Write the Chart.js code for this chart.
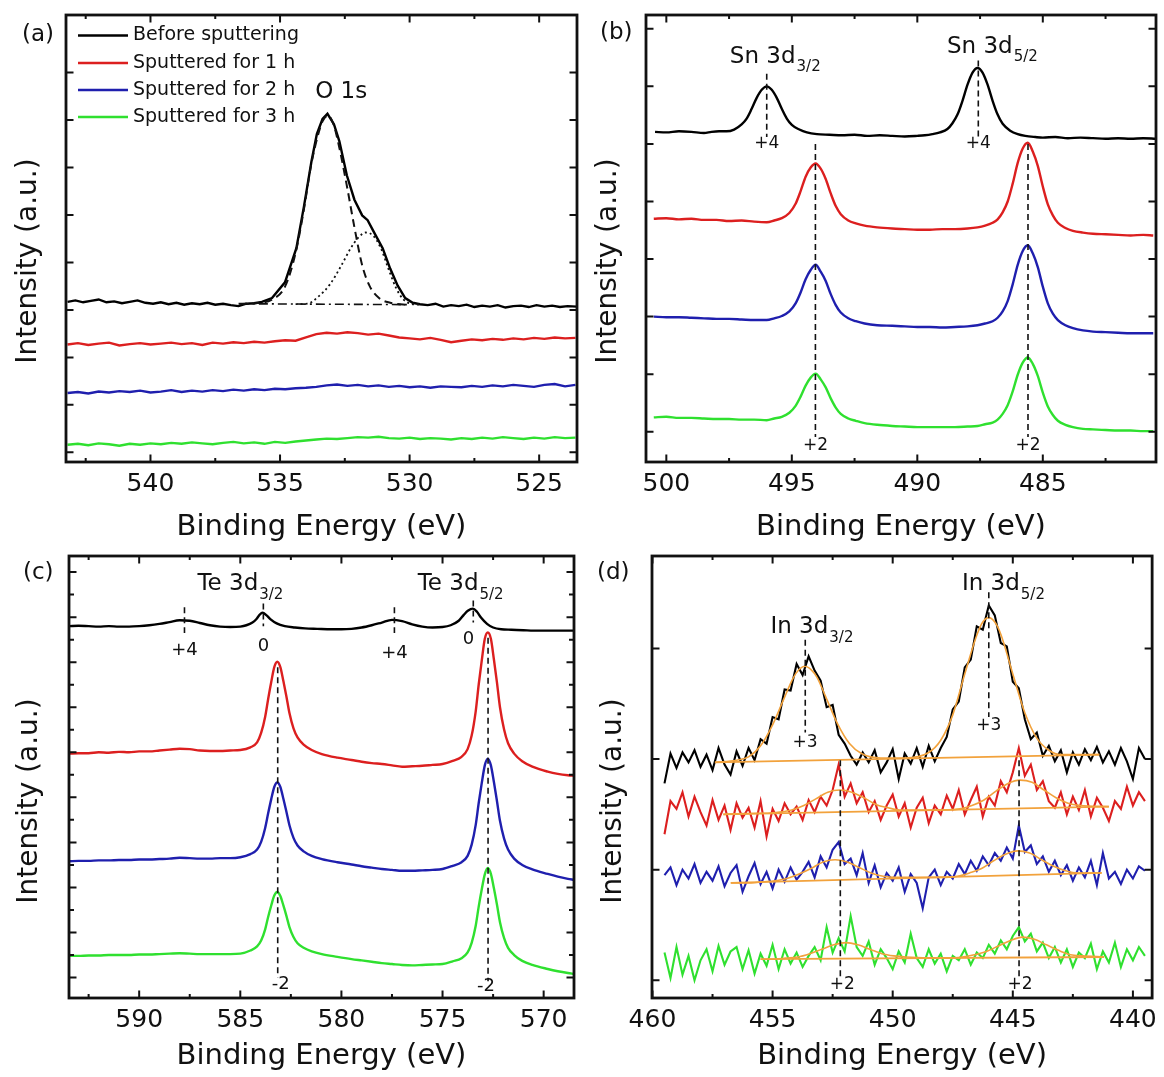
<!DOCTYPE html>
<html><head><meta charset="utf-8">
<script src="https://cdn.jsdelivr.net/npm/chart.js@4.4.1/dist/chart.umd.min.js"></script>
<style>
html,body{margin:0;padding:0;background:#fff;}
#wrap{position:relative;width:1164px;height:1077px;overflow:hidden;background:#fff;}
#wrap canvas{position:absolute;left:0;top:0;}
</style></head><body><div id="wrap">
<canvas id="pa" width="1164" height="1077"></canvas>
<canvas id="pb" width="1164" height="1077"></canvas>
<canvas id="pc" width="1164" height="1077"></canvas>
<canvas id="pd" width="1164" height="1077"></canvas>
</div>
<script>
// ---------------- series names ----------------
const seriesNames = ['Before sputtering', 'Sputtered for 1 h', 'Sputtered for 2 h', 'Sputtered for 3 h'];

// ---------------- panel (a): O 1s ----------------
const aXTicks = [540, 535, 530, 525];
const aXMinor = [542.5, 537.5, 532.5, 527.5];
const aYTicks = [0, 1, 2, 3, 4, 5, 6, 7, 8];
const aYMinor = [];
const aBlackE = [543.2, 542.9, 542.6, 542.3, 542.0, 541.7, 541.4, 541.1, 540.8, 540.5, 540.2, 539.9, 539.6, 539.3, 539.0, 538.7, 538.4, 538.1, 537.8, 537.5, 537.2, 536.9, 536.6, 536.3, 536.0, 535.7,
  535.31, 534.81, 534.37, 534.08, 533.79, 533.58, 533.36, 533.17, 532.92, 532.71, 532.42, 532.13, 531.83, 531.62, 531.33, 531.04, 530.75, 530.46, 530.17, 529.88,
  529.6, 529.3, 529.0, 528.7, 528.4, 528.1, 527.8, 527.5, 527.2, 526.9, 526.6, 526.3, 526.0, 525.7, 525.4, 525.1, 524.8, 524.5, 524.2, 523.9, 523.55];
const aBlack = [3.17, 3.20, 3.16, 3.19, 3.22, 3.16, 3.18, 3.14, 3.17, 3.20, 3.15, 3.13, 3.16, 3.12, 3.15, 3.11, 3.14, 3.12, 3.15, 3.11, 3.13, 3.10, 3.08, 3.13, 3.14, 3.17,
  3.25, 3.58, 4.30, 5.17, 6.12, 6.70, 7.02, 7.13, 6.91, 6.55, 5.83, 5.32, 4.99, 4.89, 4.59, 4.30, 3.87, 3.51, 3.25, 3.15,
  3.12, 3.10, 3.13, 3.07, 3.10, 3.08, 3.11, 3.06, 3.09, 3.07, 3.10, 3.05, 3.08, 3.09, 3.06, 3.10, 3.07, 3.09, 3.06, 3.08, 3.07];
const aFit1E = [536.6, 536.0, 535.3, 534.8, 534.4, 534.1, 533.8, 533.55, 533.35, 533.15, 532.92, 532.71, 532.42, 532.13, 531.83, 531.55, 531.18, 530.75, 530.17];
const aFit1 = [3.13, 3.14, 3.22, 3.50, 4.20, 5.05, 6.05, 6.65, 6.98, 7.09, 6.88, 6.41, 5.61, 4.74, 3.94, 3.51, 3.25, 3.15, 3.11];
const aFit2E = [534.4, 533.94, 533.50, 533.07, 532.63, 532.27, 531.98, 531.69, 531.40, 531.11, 530.82, 530.53, 530.24, 529.95, 529.6];
const aFit2 = [3.12, 3.13, 3.29, 3.54, 3.94, 4.30, 4.52, 4.63, 4.56, 4.30, 3.87, 3.47, 3.22, 3.13, 3.11];
const aBaseE = [536.55, 529.95];
const aBase = [3.13, 3.11];
const aE = [543.2, 542.8, 542.4, 542.0, 541.6, 541.2, 540.8, 540.4, 540.0, 539.6, 539.2, 538.8, 538.4, 538.0, 537.6, 537.2, 536.8, 536.4, 536.0, 535.6, 535.2, 534.8, 534.4, 534.0, 533.6, 533.2, 532.8, 532.4, 532.0, 531.6, 531.2, 530.8, 530.4, 530.0, 529.6, 529.2, 528.8, 528.4, 528.0, 527.6, 527.2, 526.8, 526.4, 526.0, 525.6, 525.2, 524.8, 524.4, 524.0, 523.6];
const aRed = [2.27, 2.30, 2.26, 2.29, 2.31, 2.25, 2.28, 2.30, 2.27, 2.29, 2.31, 2.28, 2.30, 2.26, 2.31, 2.29, 2.32, 2.30, 2.33, 2.31, 2.34, 2.36, 2.35, 2.42, 2.49, 2.52, 2.50, 2.53, 2.51, 2.48, 2.50, 2.46, 2.42, 2.40, 2.38, 2.41, 2.37, 2.32, 2.35, 2.38, 2.36, 2.39, 2.37, 2.40, 2.38, 2.41, 2.39, 2.42, 2.40, 2.41];
const aBlue = [1.25, 1.27, 1.24, 1.28, 1.26, 1.29, 1.27, 1.30, 1.26, 1.28, 1.31, 1.27, 1.30, 1.28, 1.31, 1.29, 1.32, 1.30, 1.33, 1.31, 1.34, 1.33, 1.35, 1.36, 1.38, 1.41, 1.43, 1.40, 1.42, 1.39, 1.41, 1.38, 1.40, 1.37, 1.39, 1.36, 1.39, 1.38, 1.37, 1.40, 1.38, 1.41, 1.39, 1.42, 1.40, 1.38, 1.42, 1.44, 1.39, 1.42];
const aGreen = [0.16, 0.18, 0.15, 0.19, 0.17, 0.14, 0.18, 0.16, 0.19, 0.17, 0.20, 0.18, 0.21, 0.19, 0.17, 0.20, 0.22, 0.19, 0.21, 0.18, 0.22, 0.20, 0.23, 0.25, 0.27, 0.29, 0.28, 0.30, 0.32, 0.31, 0.33, 0.30, 0.29, 0.31, 0.28, 0.30, 0.29, 0.27, 0.30, 0.28, 0.31, 0.29, 0.32, 0.30, 0.28, 0.31, 0.29, 0.32, 0.30, 0.31];
const aNoteText = ['O 1s'];
const aNoteE = [532.64];
const aNoteU = [7.59];

// ---------------- panel (b): Sn 3d ----------------
const bXTicks = [500, 495, 490, 485];
const bXMinor = [497.5, 492.5, 487.5, 482.5];
const bYTicks = [0, 1, 2, 3, 4, 5, 6, 7];
const bYMinor = [];
const bBlackE = [500.45, 500.0, 499.5, 499.0, 498.5, 498.2, 497.9, 497.6, 497.3, 497.0, 496.8, 496.6, 496.4, 496.2, 496.0, 495.8, 495.6, 495.4, 495.2, 495.0, 494.7, 494.4, 494.0, 493.5, 493.0, 492.5, 492.0, 491.5, 491.0, 490.5, 490.0, 489.7, 489.4, 489.1, 488.8, 488.6, 488.4, 488.2, 488.0, 487.8, 487.6, 487.4, 487.2, 487.0, 486.8, 486.6, 486.3, 486.0, 485.7, 485.3, 485.0, 484.5, 484.0, 483.5, 483.0, 482.5, 482.0, 481.5, 481.0, 480.5];
const bBlack = [5.21, 5.20, 5.22, 5.21, 5.19, 5.21, 5.22, 5.22, 5.25, 5.34, 5.44, 5.61, 5.80, 5.94, 6.00, 5.94, 5.80, 5.61, 5.44, 5.33, 5.25, 5.20, 5.17, 5.16, 5.15, 5.16, 5.14, 5.15, 5.14, 5.13, 5.14, 5.15, 5.17, 5.20, 5.26, 5.36, 5.51, 5.75, 6.03, 6.24, 6.32, 6.24, 6.03, 5.75, 5.51, 5.35, 5.23, 5.17, 5.14, 5.12, 5.11, 5.12, 5.10, 5.11, 5.10, 5.09, 5.10, 5.09, 5.10, 5.09];
const bColorE = [500.5, 500.0, 499.5, 499.0, 498.5, 498.0, 497.5, 497.0, 496.5, 496.0, 495.7, 495.4, 495.1, 494.85, 494.65, 494.45, 494.25, 494.05, 493.85, 493.65, 493.45, 493.25, 493.05, 492.75, 492.45, 492.1, 491.6, 491.0, 490.5, 490.0, 489.5, 489.0, 488.5, 488.0, 487.6, 487.3, 487.0, 486.8, 486.6, 486.4, 486.2, 486.0, 485.8, 485.6, 485.4, 485.2, 485.0, 484.8, 484.6, 484.4, 484.1, 483.8, 483.4, 483.0, 482.5, 482.0, 481.5, 481.0, 480.6];
const bRed = [3.70, 3.71, 3.69, 3.70, 3.68, 3.68, 3.66, 3.67, 3.65, 3.64, 3.67, 3.71, 3.80, 3.96, 4.18, 4.43, 4.59, 4.66, 4.57, 4.39, 4.14, 3.92, 3.78, 3.67, 3.62, 3.58, 3.55, 3.53, 3.52, 3.51, 3.51, 3.52, 3.52, 3.53, 3.55, 3.58, 3.63, 3.69, 3.81, 4.00, 4.31, 4.67, 4.92, 5.02, 4.87, 4.62, 4.26, 3.95, 3.76, 3.63, 3.54, 3.49, 3.46, 3.44, 3.43, 3.42, 3.41, 3.42, 3.41];
const bBlue = [2.00, 1.99, 1.99, 1.98, 1.97, 1.96, 1.96, 1.95, 1.94, 1.94, 1.97, 2.01, 2.09, 2.23, 2.42, 2.65, 2.81, 2.90, 2.78, 2.62, 2.39, 2.20, 2.07, 1.97, 1.92, 1.88, 1.85, 1.84, 1.83, 1.82, 1.82, 1.81, 1.82, 1.83, 1.85, 1.88, 1.92, 1.98, 2.09, 2.27, 2.56, 2.90, 3.14, 3.24, 3.10, 2.86, 2.52, 2.23, 2.05, 1.94, 1.85, 1.80, 1.76, 1.74, 1.73, 1.72, 1.71, 1.71, 1.71];
const bGreen = [0.25, 0.26, 0.24, 0.24, 0.23, 0.22, 0.22, 0.21, 0.21, 0.20, 0.23, 0.26, 0.33, 0.45, 0.61, 0.80, 0.94, 1.01, 0.91, 0.77, 0.58, 0.42, 0.31, 0.23, 0.19, 0.15, 0.12, 0.10, 0.09, 0.08, 0.08, 0.08, 0.08, 0.09, 0.10, 0.13, 0.16, 0.21, 0.31, 0.46, 0.70, 0.99, 1.20, 1.29, 1.18, 0.97, 0.68, 0.44, 0.29, 0.19, 0.12, 0.08, 0.05, 0.04, 0.03, 0.02, 0.02, 0.01, 0.01];
const bMarkE = [496.0, 487.57, 494.06, 485.59];
const bMarkTop = [6.22, 6.45, 5.0, 5.0];
const bMarkBot = [5.12, 5.12, -0.09, -0.09];
const bNoteText = ['+4', '+4', '+2', '+2'];
const bNoteE = [496.0, 487.57, 494.06, 485.59];
const bNoteU = [5.0, 5.0, -0.24, -0.24];
const bSpecies = ['Sn 3d', 'Sn 3d'];
const bSpeciesSub = ['3/2', '5/2'];
const bSpeciesE = [497.47, 488.82];
const bSpeciesU = [6.41, 6.58];
const bSpeciesSubU = [6.26, 6.44];

// ---------------- panel (c): Te 3d ----------------
const cXTicks = [590, 585, 580, 575, 570];
const cXMinor = [592.5, 587.5, 582.5, 577.5, 572.5];
const cYTicks = [0, 1, 2, 3, 4, 5, 6, 7, 8, 9];
const cYMinor = [0.5, 1.5, 2.5, 3.5, 4.5, 5.5, 6.5, 7.5, 8.5];
const cBlackE = [593.45, 593, 592.5, 592, 591.5, 591, 590.5, 590, 589.5, 589, 588.5, 588.0, 587.5, 587, 586.5, 586, 585.5, 585, 584.7, 584.4, 584.2, 584.05, 583.9, 583.7, 583.5, 583.2, 582.8, 582.3, 581.8, 581.2, 580.5, 580, 579.5, 579, 578.5, 578, 577.5, 577, 576.5, 576, 575.5, 575, 574.6, 574.2, 573.95, 573.75, 573.5, 573.3, 573.1, 572.8, 572.5, 572.1, 571.6, 571, 570.5, 570, 569.5, 569, 568.5];
const cBlack = [7.80, 7.81, 7.80, 7.79, 7.80, 7.79, 7.79, 7.80, 7.82, 7.85, 7.89, 7.93, 7.92, 7.87, 7.82, 7.79, 7.78, 7.79, 7.82, 7.88, 7.96, 8.05, 8.10, 8.04, 7.95, 7.86, 7.80, 7.77, 7.75, 7.74, 7.73, 7.73, 7.74, 7.77, 7.82, 7.88, 7.94, 7.91, 7.84, 7.79, 7.77, 7.78, 7.82, 7.92, 8.05, 8.14, 8.19, 8.12, 7.99, 7.85, 7.77, 7.73, 7.72, 7.71, 7.70, 7.70, 7.70, 7.70, 7.70];
const cColorE = [593.45, 593, 592.5, 592, 591.5, 591, 590.5, 590, 589.5, 589, 588.5, 588, 587.5, 587, 586.5, 586, 585.5, 585.0, 584.5, 584.17, 583.97, 583.77, 583.62, 583.47, 583.32, 583.17, 583.02, 582.87, 582.72, 582.57, 582.37, 582.17, 581.87, 581.47, 580.97, 580.2, 579.5, 579, 578.5, 578, 577.5, 577, 576.5, 576, 575.5, 575.0, 574.5, 574.06, 573.76, 573.56, 573.36, 573.21, 573.06, 572.91, 572.76, 572.61, 572.46, 572.31, 572.16, 571.96, 571.76, 571.46, 571.06, 570.56, 569.8, 569.3, 568.8, 568.5];
const cRed = [4.97, 4.98, 4.98, 5.00, 4.99, 5.01, 5.00, 5.02, 5.02, 5.04, 5.06, 5.08, 5.07, 5.04, 5.03, 5.03, 5.04, 5.05, 5.11, 5.22, 5.43, 5.79, 6.19, 6.56, 6.89, 7.01, 6.89, 6.58, 6.24, 5.87, 5.53, 5.33, 5.17, 5.05, 4.96, 4.88, 4.83, 4.79, 4.76, 4.74, 4.71, 4.68, 4.69, 4.70, 4.72, 4.74, 4.81, 4.90, 5.07, 5.37, 5.91, 6.51, 7.04, 7.52, 7.66, 7.52, 7.06, 6.55, 6.00, 5.51, 5.20, 4.97, 4.80, 4.68, 4.57, 4.52, 4.49, 4.48];
const cBlue = [2.58, 2.59, 2.59, 2.60, 2.60, 2.61, 2.61, 2.62, 2.62, 2.63, 2.64, 2.66, 2.65, 2.64, 2.64, 2.65, 2.65, 2.67, 2.74, 2.84, 3.01, 3.32, 3.65, 3.96, 4.23, 4.33, 4.23, 3.97, 3.68, 3.38, 3.10, 2.93, 2.80, 2.70, 2.63, 2.56, 2.51, 2.47, 2.44, 2.41, 2.39, 2.37, 2.37, 2.38, 2.39, 2.41, 2.48, 2.56, 2.70, 2.95, 3.39, 3.88, 4.32, 4.71, 4.86, 4.71, 4.34, 3.92, 3.48, 3.09, 2.84, 2.64, 2.50, 2.40, 2.30, 2.24, 2.19, 2.17];
const cGreen = [0.48, 0.48, 0.49, 0.49, 0.50, 0.50, 0.50, 0.51, 0.51, 0.52, 0.53, 0.54, 0.53, 0.52, 0.52, 0.52, 0.52, 0.53, 0.60, 0.69, 0.82, 1.07, 1.35, 1.60, 1.82, 1.90, 1.81, 1.60, 1.37, 1.12, 0.90, 0.76, 0.66, 0.58, 0.52, 0.46, 0.41, 0.38, 0.35, 0.32, 0.30, 0.28, 0.27, 0.28, 0.29, 0.30, 0.36, 0.43, 0.56, 0.77, 1.15, 1.58, 1.96, 2.29, 2.43, 2.30, 1.98, 1.62, 1.23, 0.88, 0.66, 0.50, 0.37, 0.28, 0.19, 0.14, 0.10, 0.08];
const cMarkE = [587.76, 583.86, 577.38, 573.48, 583.15, 572.75];
const cMarkTop = [8.22, 8.30, 8.22, 8.37, 6.89, 7.54];
const cMarkBot = [7.65, 7.80, 7.65, 7.88, 0.0, -0.08];
const cNoteText = ['+4', '0', '+4', '0', '-2', '-2'];
const cNoteE = [587.76, 583.86, 577.38, 573.72, 583.0, 572.85];
const cNoteU = [7.27, 7.35, 7.2, 7.5, -0.15, -0.19];
const cSpecies = ['Te 3d', 'Te 3d'];
const cSpeciesSub = ['3/2', '5/2'];
const cSpeciesE = [587.12, 576.23];
const cSpeciesU = [8.60, 8.60];
const cSpeciesSubU = [8.41, 8.41];

// ---------------- panel (d): In 3d ----------------
const dXTicks = [460, 455, 450, 445, 440];
const dXMinor = [457.5, 452.5, 447.5, 442.5];
const dYTicks = [0, 1, 2, 3];
const dYMinor = [];
const dE = [459.5, 459.25, 459, 458.75, 458.5, 458.25, 458, 457.75, 457.5, 457.25, 457, 456.75, 456.5, 456.25, 456, 455.75, 455.5, 455.25, 455, 454.75, 454.5, 454.25, 454, 453.75, 453.5, 453.25, 453, 452.75, 452.5, 452.25, 452, 451.75, 451.5, 451.25, 451, 450.75, 450.5, 450.25, 450, 449.75, 449.5, 449.25, 449, 448.75, 448.5, 448.25, 448, 447.75, 447.5, 447.25, 447, 446.75, 446.5, 446.25, 446, 445.75, 445.5, 445.25, 445, 444.75, 444.5, 444.25, 444, 443.75, 443.5, 443.25, 443, 442.75, 442.5, 442.25, 442, 441.75, 441.5, 441.25, 441, 440.75, 440.5, 440.25, 440, 439.75, 439.5];
const dBlack = [1.78, 2.05, 1.92, 2.06, 1.97, 2.08, 1.93, 2.04, 1.90, 2.10, 1.95, 1.86, 2.07, 1.94, 2.10, 1.99, 2.18, 2.14, 2.38, 2.36, 2.63, 2.62, 2.86, 2.76, 2.93, 2.80, 2.71, 2.47, 2.49, 2.22, 2.14, 2.03, 1.95, 2.06, 1.97, 2.08, 1.88, 1.97, 2.09, 1.82, 2.05, 1.96, 2.10, 1.93, 2.12, 1.98, 2.10, 2.20, 2.45, 2.52, 2.83, 2.90, 3.20, 3.17, 3.39, 3.30, 3.05, 3.02, 2.70, 2.64, 2.36, 2.18, 2.24, 2.03, 2.12, 1.98, 2.08, 1.88, 2.06, 1.95, 2.09, 1.99, 2.11, 1.97, 2.07, 1.95, 2.10, 1.98, 1.82, 2.10, 2.00];
const dRed = [1.32, 1.62, 1.55, 1.70, 1.48, 1.66, 1.52, 1.40, 1.63, 1.45, 1.58, 1.36, 1.60, 1.47, 1.56, 1.38, 1.62, 1.30, 1.55, 1.44, 1.60, 1.50, 1.57, 1.45, 1.63, 1.52, 1.66, 1.58, 1.72, 1.95, 1.66, 1.78, 1.60, 1.70, 1.52, 1.62, 1.45, 1.58, 1.68, 1.48, 1.60, 1.38, 1.56, 1.65, 1.42, 1.58, 1.50, 1.67, 1.55, 1.72, 1.50, 1.63, 1.75, 1.48, 1.66, 1.58, 1.80, 1.70, 1.88, 2.10, 1.85, 1.95, 1.72, 1.80, 1.62, 1.56, 1.70, 1.50, 1.66, 1.54, 1.72, 1.48, 1.65, 1.56, 1.44, 1.62, 1.55, 1.75, 1.58, 1.70, 1.62];
const dBlue = [0.95, 1.02, 0.86, 1.00, 0.92, 1.05, 0.88, 0.98, 0.90, 1.03, 0.85, 0.97, 1.04, 0.80, 0.94, 1.06, 0.87, 0.98, 0.83, 1.00, 0.89, 1.02, 0.91, 0.98, 1.07, 0.93, 1.12, 1.02, 1.18, 1.25, 1.05, 1.10, 0.95, 1.15, 0.88, 1.04, 0.84, 0.97, 0.90, 1.02, 0.80, 0.96, 0.88, 0.65, 0.93, 1.00, 0.86, 0.98, 0.92, 1.05, 0.96, 1.08, 0.99, 1.12, 1.04, 1.15, 1.08, 1.20, 1.10, 1.40, 1.16, 1.22, 1.05, 1.12, 0.98, 1.08, 0.95, 1.04, 0.90, 1.02, 0.93, 1.08, 0.86, 1.15, 0.92, 0.98, 0.87, 1.00, 0.92, 1.03, 0.99];
const dGreen = [0.25, 0.02, 0.30, 0.05, 0.22, 0.00, 0.18, 0.28, 0.08, 0.31, 0.14, 0.26, 0.30, 0.10, 0.27, 0.06, 0.24, 0.13, 0.32, 0.10, 0.28, 0.15, 0.25, 0.12, 0.22, 0.30, 0.18, 0.48, 0.25, 0.38, 0.26, 0.58, 0.30, 0.22, 0.35, 0.14, 0.28, 0.20, 0.10, 0.26, 0.16, 0.42, 0.20, 0.12, 0.28, 0.15, 0.24, 0.08, 0.22, 0.18, 0.28, 0.14, 0.25, 0.20, 0.32, 0.24, 0.36, 0.28, 0.40, 0.48, 0.35, 0.42, 0.26, 0.34, 0.20, 0.30, 0.16, 0.28, 0.12, 0.25, 0.20, 0.33, 0.10, 0.26, 0.16, 0.34, 0.12, 0.28, 0.18, 0.30, 0.22];
const dFitBlackE = [457.4, 456.5, 456.0, 455.5, 455.0, 454.5, 454.15, 453.9, 453.65, 453.4, 453.15, 452.8, 452.3, 451.8, 451.3, 450.5, 449.5, 448.5, 448.0, 447.5, 447.0, 446.5, 446.25, 446.0, 445.75, 445.5, 445.0, 444.5, 444.0, 443.5, 443.0, 442.2, 441.4];
const dFitBlack = [1.97, 1.99, 2.02, 2.12, 2.31, 2.56, 2.73, 2.81, 2.84, 2.81, 2.74, 2.57, 2.32, 2.14, 2.05, 2.01, 2.01, 2.06, 2.17, 2.40, 2.77, 3.12, 3.24, 3.28, 3.24, 3.13, 2.77, 2.42, 2.19, 2.08, 2.04, 2.04, 2.04];
const dFitRedE = [457.05, 455.7, 455.2, 454.7, 454.2, 453.7, 453.2, 452.7, 452.2, 451.7, 451.2, 450.7, 450.2, 449.7, 448.2, 447.7, 447.2, 446.7, 446.2, 445.7, 445.2, 444.7, 444.2, 443.7, 443.2, 442.7, 442.2, 441.0];
const dFitRed = [1.50, 1.51, 1.51, 1.52, 1.54, 1.58, 1.64, 1.70, 1.72, 1.70, 1.65, 1.59, 1.56, 1.54, 1.54, 1.54, 1.55, 1.58, 1.63, 1.71, 1.78, 1.81, 1.79, 1.72, 1.65, 1.60, 1.58, 1.57];
const dFitBlueE = [456.74, 455.9, 455.4, 454.9, 454.4, 453.9, 453.4, 452.9, 452.4, 451.9, 451.4, 450.9, 450.4, 449.9, 448.3, 447.8, 447.3, 446.8, 446.3, 445.8, 445.3, 444.8, 444.3, 443.8, 443.3, 442.8, 442.3, 441.3];
const dFitBlue = [0.88, 0.88, 0.89, 0.90, 0.92, 0.96, 1.01, 1.07, 1.09, 1.07, 1.02, 0.97, 0.94, 0.93, 0.93, 0.93, 0.94, 0.97, 1.01, 1.08, 1.14, 1.17, 1.15, 1.09, 1.03, 0.99, 0.97, 0.97];
const dFitGreenE = [455.5, 455.0, 454.45, 453.95, 453.45, 452.95, 452.45, 451.95, 451.45, 450.95, 450.45, 449.95, 449.45, 448.1, 447.6, 447.1, 446.6, 446.1, 445.6, 445.1, 444.6, 444.1, 443.6, 443.1, 442.6, 442.1, 441.2];
const dFitGreen = [0.19, 0.19, 0.20, 0.21, 0.24, 0.28, 0.32, 0.34, 0.32, 0.28, 0.24, 0.22, 0.21, 0.20, 0.20, 0.21, 0.23, 0.26, 0.31, 0.36, 0.39, 0.37, 0.32, 0.27, 0.23, 0.22, 0.21];
const dBaseBlackE = [457.4, 441.4], dBaseBlack = [1.97, 2.04];
const dBaseRedE = [457.05, 441.0], dBaseRed = [1.50, 1.57];
const dBaseBlueE = [456.74, 441.3], dBaseBlue = [0.88, 0.97];
const dBaseGreenE = [455.5, 441.2], dBaseGreen = [0.19, 0.21];
const dMarkE = [453.64, 446.0, 452.18, 444.74];
const dMarkTop = [3.08, 3.51, 1.99, 1.99];
const dMarkBot = [2.24, 2.38, 0.01, 0.01];
const dNoteText = ['+3', '+3', '+2', '+2'];
const dNoteE = [453.65, 446.0, 452.1, 444.7];
const dNoteU = [2.15, 2.30, -0.04, -0.04];
const dSpecies = ['In 3d', 'In 3d'];
const dSpeciesSub = ['3/2', '5/2'];
const dSpeciesE = [455.09, 447.12];
const dSpeciesU = [3.14, 3.53];
const dSpeciesSubU = [3.06, 3.45];

// ---------------- styling / layout ----------------
const FONT = '"DejaVu Sans", "Liberation Sans", sans-serif';
const COLORS = ['#000000', '#dc1f1f', '#1f1fae', '#2fe02f'];
const ORANGE = '#f2a23c';
const INK = '#111111';

function pts(xs, ys) { return xs.map((x, i) => ({ x: x, y: ys[i] })); }
function ln(data, color, width, order, extra) {
  return Object.assign({ data: data, borderColor: color, backgroundColor: color, borderWidth: width,
    pointRadius: 0, pointHoverRadius: 0, fill: false, tension: 0, order: order }, extra || {});
}
function marks(es, tops, bots) {
  return es.map((e, i) => ln([{ x: e, y: tops[i] }, { x: e, y: bots[i] }], INK, 1.6, 0, { borderDash: [6, 4] }));
}
const smooth = { cubicInterpolationMode: 'monotone' };

const DECOR = {};
const decorPlugin = {
  id: 'decor',
  afterDraw(chart) {
    const o = DECOR[chart.canvas.id];
    if (!o) return;
    const ctx = chart.ctx, a = chart.chartArea, x = chart.scales.x, y = chart.scales.y;
    ctx.save();
    ctx.strokeStyle = INK; ctx.fillStyle = INK; ctx.lineCap = 'butt';
    ctx.lineWidth = 2;
    ctx.beginPath();
    o.xMajor.forEach(v => { const p = x.getPixelForValue(v); ctx.moveTo(p, a.bottom); ctx.lineTo(p, a.bottom - 7.5); ctx.moveTo(p, a.top); ctx.lineTo(p, a.top + 7.5); });
    o.xMinor.forEach(v => { const p = x.getPixelForValue(v); ctx.moveTo(p, a.bottom); ctx.lineTo(p, a.bottom - 4); ctx.moveTo(p, a.top); ctx.lineTo(p, a.top + 4); });
    o.yMajor.forEach(v => { const p = y.getPixelForValue(v); ctx.moveTo(a.left, p); ctx.lineTo(a.left + 7.5, p); ctx.moveTo(a.right, p); ctx.lineTo(a.right - 7.5, p); });
    o.yMinor.forEach(v => { const p = y.getPixelForValue(v); ctx.moveTo(a.left, p); ctx.lineTo(a.left + 5, p); ctx.moveTo(a.right, p); ctx.lineTo(a.right - 5, p); });
    ctx.stroke();
    ctx.lineWidth = 2.8;
    ctx.strokeRect(a.left, a.top, a.right - a.left, a.bottom - a.top);

    const txt = (s, px, py, size, align, base) => {
      ctx.font = size + 'px ' + FONT; ctx.textAlign = align; ctx.textBaseline = base; ctx.fillText(s, px, py);
    };
    o.notes.text.forEach((s, i) => txt(s, x.getPixelForValue(o.notes.e[i]), y.getPixelForValue(o.notes.u[i]), o.notes.size, 'center', 'middle'));
    if (o.species) {
      o.species.text.forEach((s, i) => {
        const px = x.getPixelForValue(o.species.e[i]);
        txt(s, px, y.getPixelForValue(o.species.u[i]), 23, 'left', 'alphabetic');
        const w = ctx.measureText(s).width;
        txt(o.species.sub[i], px + w + 1, y.getPixelForValue(o.species.su[i]), 15, 'left', 'alphabetic');
      });
    }
    if (o.legend) {
      o.legend.rows.forEach((ry, i) => {
        ctx.strokeStyle = COLORS[i]; ctx.lineWidth = 2.6;
        ctx.beginPath(); ctx.moveTo(o.legend.x0, ry); ctx.lineTo(o.legend.x1, ry); ctx.stroke();
        ctx.fillStyle = INK;
        txt(seriesNames[i], o.legend.tx, ry, 19, 'left', 'middle');
      });
    }
    ctx.fillStyle = INK;
    txt(o.panel.text, o.panel.x, o.panel.y, 23, 'left', 'middle');
    ctx.save();
    ctx.translate(o.yTitle.x, o.yTitle.y);
    ctx.rotate(-Math.PI / 2);
    txt('Intensity (a.u.)', 0, 0, 28, 'center', 'alphabetic');
    ctx.restore();
    ctx.restore();
  }
};

function makeChart(id, f, datasets) {
  const axisBottom = f.titleY + 29 * 1.2 / 2;
  const deco = DECOR[id];
  return new Chart(document.getElementById(id), {
    type: 'line',
    data: { datasets: datasets },
    options: {
      responsive: false, animation: false, devicePixelRatio: 1, events: [],
      layout: { padding: { left: f.L, top: f.T, right: 1164 - f.R, bottom: 1077 - axisBottom } },
      plugins: { legend: { display: false }, tooltip: { enabled: false } },
      scales: {
        x: {
          type: 'linear', reverse: true, bounds: 'data', min: f.xmin, max: f.xmax, position: 'bottom',
          grid: { display: false, drawTicks: false }, border: { display: false },
          ticks: { font: { family: FONT, size: 25 }, color: INK, padding: 7, includeBounds: false, autoSkip: false, maxRotation: 0, minRotation: 0,
                   callback: v => String(v) },
          afterBuildTicks: s => { s.ticks = deco.xMajor.map(v => ({ value: v })); },
          afterFit: s => { s.height = axisBottom - f.B; },
          title: { display: true, text: 'Binding Energy (eV)', font: { family: FONT, size: 29 }, color: INK, padding: 0 }
        },
        y: { type: 'linear', display: false, bounds: 'data', min: f.ymin, max: f.ymax }
      }
    },
    plugins: [decorPlugin]
  });
}

// ---------------- panel (a) ----------------
DECOR.pa = {
  xMajor: aXTicks, xMinor: aXMinor, yMajor: aYTicks, yMinor: aYMinor,
  notes: { text: aNoteText, e: aNoteE, u: aNoteU, size: 23 },
  legend: { rows: [35.5, 63, 90, 117], x0: 78, x1: 128, tx: 133 },
  panel: { text: '(a)', x: 22, y: 35 }, yTitle: { x: 36, y: 261 }
};
makeChart('pa', { L: 66, T: 15, R: 577, B: 462, titleY: 527, xmin: 523.54, xmax: 543.26, ymin: -0.203, ymax: 9.21 }, [
  ln(pts(aFit1E, aFit1), INK, 2, 0, Object.assign({ borderDash: [8, 5] }, smooth)),
  ln(pts(aFit2E, aFit2), INK, 1.8, 0, Object.assign({ borderDash: [2, 3] }, smooth)),
  ln(pts(aBaseE, aBase), INK, 1.6, 0, { borderDash: [9, 4, 2, 4] }),
  ln(pts(aBlackE, aBlack), COLORS[0], 2.4, 1),
  ln(pts(aE, aRed), COLORS[1], 2.4, 2),
  ln(pts(aE, aBlue), COLORS[2], 2.4, 3),
  ln(pts(aE, aGreen), COLORS[3], 2.4, 4)
]);

// ---------------- panel (b) ----------------
DECOR.pb = {
  xMajor: bXTicks, xMinor: bXMinor, yMajor: bYTicks, yMinor: bYMinor,
  notes: { text: bNoteText, e: bNoteE, u: bNoteU, size: 17 },
  species: { text: bSpecies, sub: bSpeciesSub, e: bSpeciesE, u: bSpeciesU, su: bSpeciesSubU },
  panel: { text: '(b)', x: 600, y: 33 }, yTitle: { x: 616, y: 261 }
};
makeChart('pb', { L: 646, T: 15, R: 1156, B: 462, titleY: 527, xmin: 480.49, xmax: 500.81, ymin: -0.526, ymax: 7.24 },
  marks(bMarkE, bMarkTop, bMarkBot).concat([
  ln(pts(bBlackE, bBlack), COLORS[0], 2.4, 1, smooth),
  ln(pts(bColorE, bRed), COLORS[1], 2.4, 2, smooth),
  ln(pts(bColorE, bBlue), COLORS[2], 2.4, 3, smooth),
  ln(pts(bColorE, bGreen), COLORS[3], 2.4, 4, smooth)
]));

// ---------------- panel (c) ----------------
DECOR.pc = {
  xMajor: cXTicks, xMinor: cXMinor, yMajor: cYTicks, yMinor: cYMinor,
  notes: { text: cNoteText, e: cNoteE, u: cNoteU, size: 18 },
  species: { text: cSpecies, sub: cSpeciesSub, e: cSpeciesE, u: cSpeciesU, su: cSpeciesSubU },
  panel: { text: '(c)', x: 23, y: 573 }, yTitle: { x: 37, y: 801 }
};
makeChart('pc', { L: 69, T: 556, R: 574, B: 998, titleY: 1056, xmin: 568.50, xmax: 593.47, ymin: -0.454, ymax: 9.357 },
  marks(cMarkE, cMarkTop, cMarkBot).concat([
  ln(pts(cBlackE, cBlack), COLORS[0], 2.4, 1, smooth),
  ln(pts(cColorE, cRed), COLORS[1], 2.4, 2, smooth),
  ln(pts(cColorE, cBlue), COLORS[2], 2.4, 3, smooth),
  ln(pts(cColorE, cGreen), COLORS[3], 2.4, 4, smooth)
]));

// ---------------- panel (d) ----------------
DECOR.pd = {
  xMajor: dXTicks, xMinor: dXMinor, yMajor: dYTicks, yMinor: dYMinor,
  notes: { text: dNoteText, e: dNoteE, u: dNoteU, size: 17 },
  species: { text: dSpecies, sub: dSpeciesSub, e: dSpeciesE, u: dSpeciesU, su: dSpeciesSubU },
  panel: { text: '(d)', x: 597, y: 573 }, yTitle: { x: 621, y: 801 }
};
makeChart('pd', { L: 652, T: 556, R: 1158, B: 998, titleY: 1056, xmin: 439.20, xmax: 460.02, ymin: -0.161, ymax: 3.837 },
  marks(dMarkE, dMarkTop, dMarkBot).concat([
  ln(pts(dFitBlackE, dFitBlack), ORANGE, 1.6, 0, smooth),
  ln(pts(dFitRedE, dFitRed), ORANGE, 1.6, 0, smooth),
  ln(pts(dFitBlueE, dFitBlue), ORANGE, 1.6, 0, smooth),
  ln(pts(dFitGreenE, dFitGreen), ORANGE, 1.6, 0, smooth),
  ln(pts(dBaseBlackE, dBaseBlack), ORANGE, 1.8, 0),
  ln(pts(dBaseRedE, dBaseRed), ORANGE, 1.8, 0),
  ln(pts(dBaseBlueE, dBaseBlue), ORANGE, 1.8, 0),
  ln(pts(dBaseGreenE, dBaseGreen), ORANGE, 1.8, 0),
  ln(pts(dE, dBlack), COLORS[0], 2.1, 1),
  ln(pts(dE, dRed), COLORS[1], 2.1, 2),
  ln(pts(dE, dBlue), COLORS[2], 2.1, 3),
  ln(pts(dE, dGreen), COLORS[3], 2.1, 4)
]));
</script></body></html>
